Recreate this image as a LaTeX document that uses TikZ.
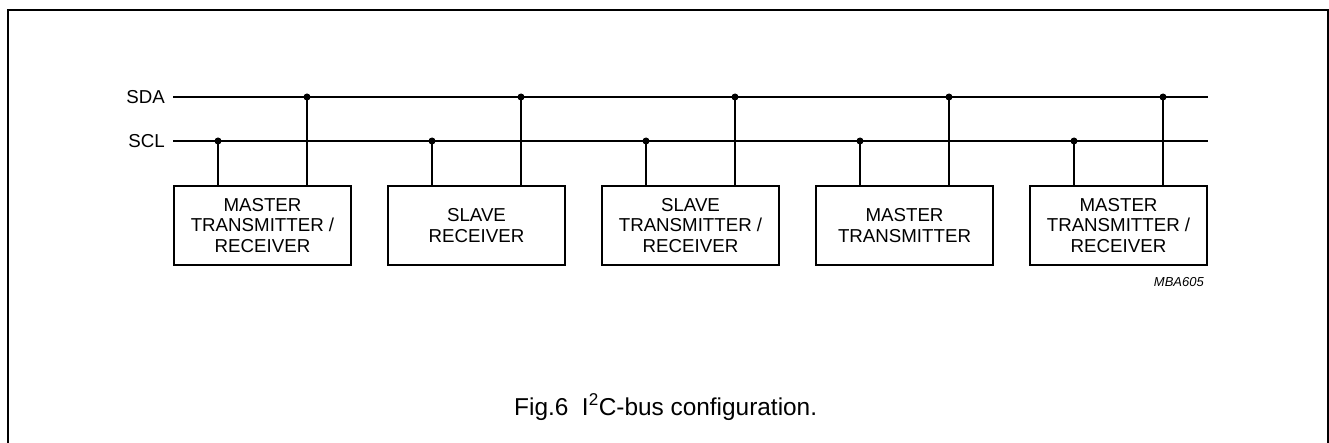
\documentclass[tikz,border=0pt]{standalone}
\usepackage{fontspec}
\setmainfont{Liberation Sans}
\begin{document}
\begin{tikzpicture}[x=1pt,y=-1pt,
  unit/.style={draw,line width=2.2pt,minimum width=177pt,minimum height=79pt,inner sep=0pt,
    align=center,font=\fontsize{18.7}{20.5}\selectfont},
  bus/.style={line width=1.2pt},
  tap/.style={line width=1.2pt},
  dot/.style={circle,fill=black,inner sep=0pt,minimum size=7pt},
  lbl/.style={font=\fontsize{18.7}{20.5}\selectfont,inner sep=0pt}]
\useasboundingbox (0,0) rectangle (1329,443);
\draw[line width=2pt] (7.5,444) -- (7.5,10.5) -- (1327.5,10.5) -- (1327.5,444);
% bus labels and lines
\node[lbl,anchor=east] (sdalbl) at (165,97) {SDA};
\node[lbl,anchor=east] (scllbl) at (165,141) {SCL};
\coordinate (sdaL) at (173,97);
\coordinate (sdaR) at (1208,97);
\coordinate (sclL) at (173,141);
\coordinate (sclR) at (1208,141);
\draw[bus] (sdaL) -- (sdaR);
\draw[bus] (sclL) -- (sclR);
% units
\node[unit] (u1) at (262.5,225.5) {MASTER\\TRANSMITTER /\\RECEIVER};
\node[unit] (u2) at (476.5,225.5) {SLAVE\\RECEIVER};
\node[unit] (u3) at (690.5,225.5) {SLAVE\\TRANSMITTER /\\RECEIVER};
\node[unit] (u4) at (904.5,225.5) {MASTER\\TRANSMITTER};
\node[unit] (u5) at (1118.5,225.5) {MASTER\\TRANSMITTER /\\RECEIVER};
% taps
\foreach \i/\c in {1/218,2/432,3/646,4/860,5/1074}{
  \node[dot] (c\i) at (\c,141) {};
  \draw[tap] (c\i.center) -- (c\i.center |- u\i.north);
}
\foreach \i/\c in {1/307,2/521,3/735,4/949,5/1163}{
  \node[dot] (d\i) at (\c,97) {};
  \draw[tap] (d\i.center) -- (d\i.center |- u\i.north);
}
\node[anchor=base east,inner sep=0pt,font=\fontsize{13}{15}\selectfont\itshape] (code) at (1204,287) {MBA605};
\node[anchor=base west,inner sep=0pt,font=\fontsize{24.4}{27}\selectfont] (cap) at (514,415) {Fig.6\ \ I\textsuperscript{2}C-bus configuration.};
\end{tikzpicture}
\end{document}
